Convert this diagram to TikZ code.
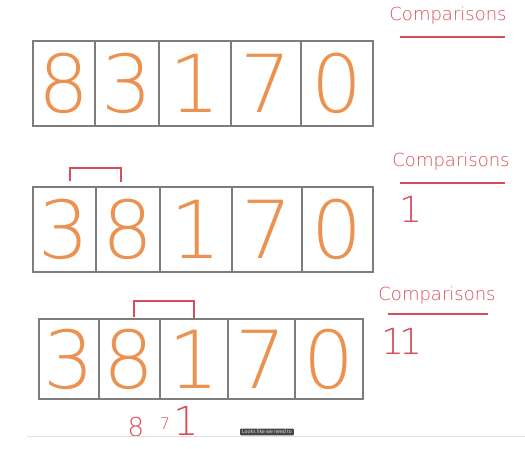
\documentclass[tikz,border=0pt]{standalone}
\usepackage{fontspec}
\setmainfont{Open Sans}
\newfontfamily\thinfont{DejaVu Sans ExtraLight}
\definecolor{boxgray}{RGB}{125,125,125}
\definecolor{digitorange}{RGB}{236,146,80}
\definecolor{penred}{RGB}{214,78,90}
\definecolor{tipgray}{RGB}{70,70,70}
\begin{document}
\begin{tikzpicture}[x=1pt,y=-1pt,
  cell/.style={draw=boxgray, line width=1.8pt, anchor=north west, inner sep=0pt,
    text=digitorange, font=\thinfont\fontsize{80}{80}\selectfont},
  cmp/.style={text=penred, font=\thinfont\fontsize{18}{18}\selectfont, inner sep=0pt},
  rule/.style={draw=penred, line width=1.3pt},
  tally/.style={text=penred, font=\thinfont\fontsize{36}{36}\selectfont, inner sep=0pt},
  brk/.style={draw=penred, line width=1.3pt}]
\useasboundingbox (0,0) rectangle (525,448);
\fill[white] (0,0) rectangle (525,448);

% Row 1
\node[cell, minimum width=62pt, minimum height=85pt] (a1) at (32,40) {8};
\node[cell, minimum width=64pt, minimum height=85pt] (a2) at (94,40) {3};
\node[cell, minimum width=72pt, minimum height=85pt] (a3) at (158,40) {1};
\node[cell, minimum width=70pt, minimum height=85pt] (a4) at (230,40) {7};
\node[cell, minimum width=72pt, minimum height=85pt] (a5) at (300,40) {0};
\node[cmp] (c1) at (448,16) {Comparisons};
\coordinate (u1l) at (400,37); \coordinate (u1r) at (505,37);
\draw[rule] (u1l) -- (u1r);

% Row 2
\node[cell, minimum width=63pt, minimum height=85pt] (b1) at (32,186) {3};
\node[cell, minimum width=64pt, minimum height=85pt] (b2) at (95,186) {8};
\node[cell, minimum width=72pt, minimum height=85pt] (b3) at (159,186) {1};
\node[cell, minimum width=70pt, minimum height=85pt] (b4) at (231,186) {7};
\node[cell, minimum width=71pt, minimum height=85pt] (b5) at (301,186) {0};
\coordinate (k2l) at (70,181); \coordinate (k2r) at (121,182);
\draw[brk] (k2l) -- (70,168) -- (121,168) -- (k2r);
\node[cmp] (c2) at (451,162) {Comparisons};
\coordinate (u2l) at (400,183); \coordinate (u2r) at (505,183);
\draw[rule] (u2l) -- (u2r);
\node[tally] (t2) at (411,209) {1};

% Row 3
\node[cell, minimum width=60pt, minimum height=80pt] (d1) at (38,318) {3};
\node[cell, minimum width=61pt, minimum height=80pt] (d2) at (98,318) {8};
\node[cell, minimum width=68pt, minimum height=80pt] (d3) at (159,318) {1};
\node[cell, minimum width=67pt, minimum height=80pt] (d4) at (227,318) {7};
\node[cell, minimum width=68pt, minimum height=80pt] (d5) at (294,318) {0};
\coordinate (k3l) at (134,317); \coordinate (k3r) at (194,318);
\draw[brk] (k3l) -- (134,301) -- (194,301) -- (k3r);
\node[cmp] (c3) at (437,296) {Comparisons};
\coordinate (u3l) at (388,314); \coordinate (u3r) at (488,314);
\draw[rule] (u3l) -- (u3r);
\node[tally] (t3) at (402,341) {1\kern-4pt1};

% Bottom scribbles
\node[text=penred, font=\thinfont\fontsize{26}{26}\selectfont, inner sep=0pt] (s8) at (136,427) {8};
\node[text=penred, font=\thinfont\fontsize{16}{16}\selectfont, inner sep=0pt] (s7) at (165,424) {7};
\node[text=penred, font=\thinfont\fontsize{40}{40}\selectfont, inner sep=0pt] (s1) at (186,421) {1};

% video edge and tooltip
\coordinate (el) at (27,436); \coordinate (er) at (525,436);
\draw[gray!25, line width=0.8pt] (el) -- (er);
\node[fill=tipgray, text=white!85!gray, font=\fontsize{5}{5}\selectfont,
  inner xsep=2pt, inner ysep=1.5pt, rounded corners=1pt] (tip) at (267,432) {Looks like we need to};
\end{tikzpicture}
\end{document}
